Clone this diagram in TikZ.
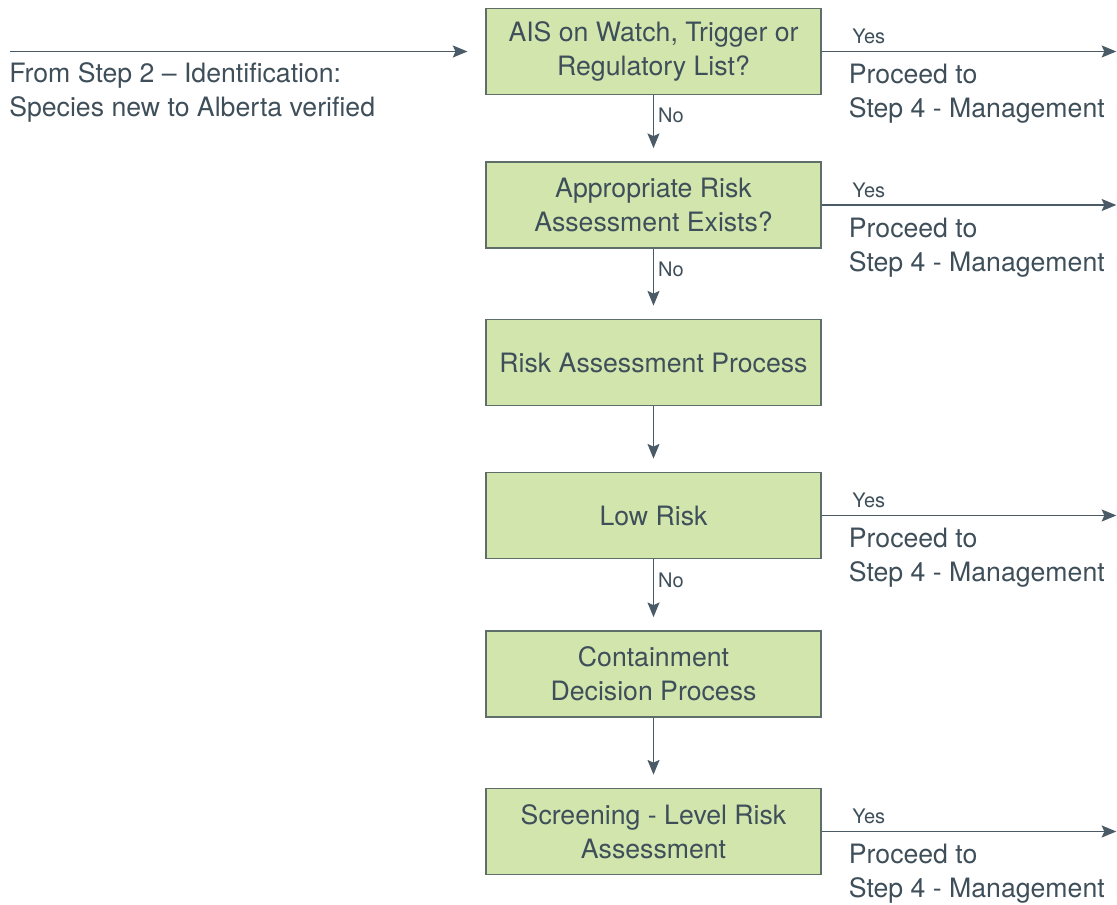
\documentclass[tikz,border=0pt]{standalone}
\usepackage{fontspec}
\setmainfont{TeX Gyre Heros}
\usetikzlibrary{arrows.meta}

\definecolor{boxfill}{HTML}{D1E5AD}
\definecolor{boxline}{HTML}{5E6E68}
\definecolor{ink}{HTML}{3F4F5A}
\definecolor{wire}{HTML}{4A5A66}

\begin{document}
\begin{tikzpicture}[
    x=0.75pt, y=-0.75pt,
    stepbox/.style={draw=boxline, line width=0.8pt, fill=boxfill, rectangle,
                    minimum width=251.25pt, minimum height=64.5pt, inner sep=0pt,
                    align=center, text=ink, font=\fontsize{20}{25.5}\selectfont},
    flow/.style={-{Stealth[length=11pt, width=9pt, inset=2pt]}, draw=wire,
                 line width=1.1pt, shorten >=10pt},
    exit/.style={flow, shorten >=0.5pt},
    yes/.style={pos=0.16, above, inner sep=5pt, text=ink, font=\fontsize{15}{18}\selectfont},
    no/.style={pos=0.3, right, inner sep=3pt, text=ink, font=\fontsize{15}{18}\selectfont},
    goto/.style={pos=0.09, anchor=north west, yshift=-9pt, inner sep=0pt, align=left,
                 text=ink, font=\fontsize{20}{25.5}\selectfont}
]
    \useasboundingbox (0,0) rectangle (1117,905);

    \node[stepbox] (watchlist) at (653.5, 51.5) {AIS on Watch, Trigger or\\Regulatory List?};
    \node[stepbox] (exists) at (653.5, 205) {Appropriate Risk\\Assessment Exists?};
    \node[stepbox] (process) at (653.5, 362.5) {Risk Assessment Process};
    \node[stepbox] (lowrisk) at (653.5, 515.5) {Low Risk};
    \node[stepbox] (containment) at (653.5, 674) {Containment\\Decision Process};
    \node[stepbox] (screening) at (653.5, 831.5) {Screening - Level Risk\\Assessment};

    \node[anchor=west, align=left, inner sep=0pt, text=ink,
          font=\fontsize{20}{25.5}\selectfont] (source) at (9, 92)
          {From Step 2 – Identification:\\Species new to Alberta verified};
    \coordinate (from) at (10, 51.5);
    \draw[flow, shorten >=13.5pt] (from) -- (watchlist);

    \coordinate (out1) at (1117, 51.5);
    \coordinate (out2) at (1117, 205);
    \coordinate (out4) at (1117, 515.5);
    \coordinate (out6) at (1117, 831.5);

    \draw[exit] (watchlist) -- node[yes] {Yes} node[goto] {Proceed to\\Step 4 - Management} (out1);
    \draw[exit] (exists) -- node[yes] {Yes} node[goto] {Proceed to\\Step 4 - Management} (out2);
    \draw[exit] (lowrisk) -- node[yes] {Yes} node[goto] {Proceed to\\Step 4 - Management} (out4);
    \draw[exit] (screening) -- node[yes] {Yes} node[goto] {Proceed to\\Step 4 - Management} (out6);

    \draw[flow] (watchlist) -- node[no] {No} (exists);
    \draw[flow] (exists) -- node[no] {No} (process);
    \draw[flow] (process) -- (lowrisk);
    \draw[flow] (lowrisk) -- node[no] {No} (containment);
    \draw[flow] (containment) -- (screening);
\end{tikzpicture}
\end{document}
